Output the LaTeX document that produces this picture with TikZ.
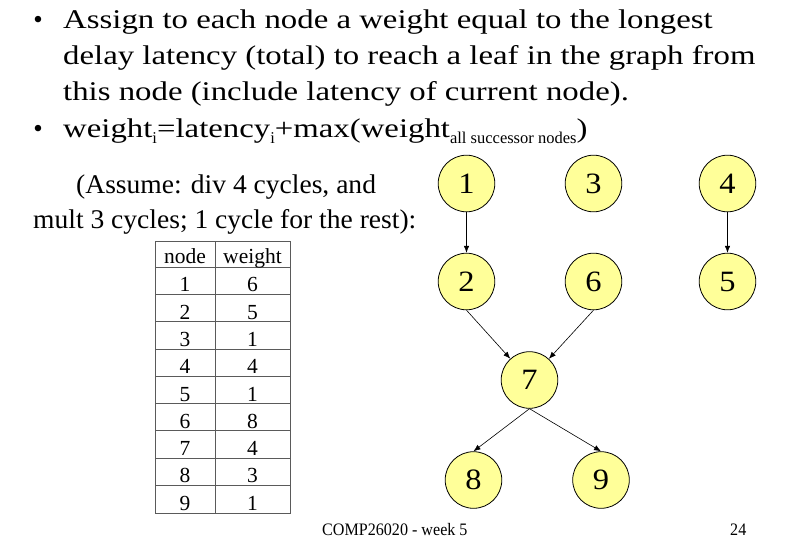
\documentclass[tikz,border=0pt]{standalone}
\usepackage{fontspec}
\setmainfont{Liberation Serif}
\newfontfamily\widefont[FakeStretch=1.215]{Liberation Serif}
\newfontfamily\notefont[FakeStretch=1.02]{Liberation Serif}
\newfontfamily\footfont[FakeStretch=0.92]{Liberation Serif}
\newfontfamily\digitfont[FakeStretch=1.1]{Liberation Serif}
\usetikzlibrary{arrows.meta}
\definecolor{nodeyellow}{RGB}{255,255,153}
\definecolor{gridgray}{RGB}{90,90,90}
\newcommand{\lowtext}[1]{\raisebox{-6pt}{\rmfamily\fontsize{16.5}{16.5}\selectfont #1}}

\begin{document}
\begin{tikzpicture}[x=1pt, y=-1pt,
    vertex/.style={circle, draw, line width=0.8pt, fill=nodeyellow, minimum size=56.6pt, inner sep=0pt, font=\digitfont\fontsize{29.5}{29.5}\selectfont},
    edge/.style={-{Latex[length=7pt,width=5.5pt]}, line width=0.6pt},
    textline/.style={anchor=base west, inner sep=0pt, font=\widefont\fontsize{27}{27}\selectfont},
    note/.style={anchor=base west, inner sep=0pt, font=\notefont\fontsize{27}{27}\selectfont},
    cell/.style={anchor=base, inner sep=0pt, font=\fontsize{21.5}{21.5}\selectfont},
    foot/.style={anchor=base west, inner sep=0pt, font=\footfont\fontsize{17.5}{17.5}\selectfont}]
    \useasboundingbox[fill=white] (0,0) rectangle (787,552);
    % bullets
    \node[textline, anchor=base, font=\rmfamily\fontsize{27}{27}\selectfont] (b1) at (38,28) {\textbullet};
    \node[textline, anchor=base, font=\rmfamily\fontsize{27}{27}\selectfont] (b2) at (38,137) {\textbullet};
    \node[textline] (t1) at (63,28) {Assign to each node a weight equal to the longest};
    \node[textline] (t2) at (63,64) {delay latency (total) to reach a leaf in the graph from};
    \node[textline] (t3) at (63,100) {this node (include latency of current node).};
    \node[textline] (t4) at (63,137) {weight\lowtext{i}=latency\lowtext{i}+max(weight\lowtext{all successor nodes})};
    % assumption
    \node[note] (a1) at (76,193) {(Assume: div 4 cycles, and};
    \node[note] (a2) at (33,228) {mult 3 cycles; 1 cycle for the rest):};
    % table
    \draw[gridgray, line width=0.7pt] (155,241) rectangle (290,513);
    \draw[gridgray, line width=0.7pt] (215,241) -- (215,513);
    \foreach \i in {0,...,8}
        \draw[gridgray, line width=0.7pt] (155,{267+27.3*\i}) -- (290,{267+27.3*\i});
    \node[cell] (hkey) at (185,263) {node};
    \node[cell] (hwgt) at (252.5,263) {weight};
    \foreach \n/\w [count=\i] in {1/6,2/5,3/1,4/4,5/1,6/8,7/4,8/3,9/1} {
        \node[cell] (key\i) at (185,{267+27.3*\i-2.5}) {\n};
        \node[cell] (wgt\i) at (252.5,{267+27.3*\i-2.5}) {\w};
    }
    % graph
    \node[vertex] (n1) at (466.5,183.5) {1};
    \node[vertex] (n3) at (593.5,183.5) {3};
    \node[vertex] (n4) at (727.5,183.5) {4};
    \node[vertex] (n2) at (466.5,281.5) {2};
    \node[vertex] (n6) at (593.5,281.5) {6};
    \node[vertex] (n5) at (727.5,281.5) {5};
    \node[vertex] (n7) at (529.5,380) {7};
    \node[vertex] (n8) at (473.5,480) {8};
    \node[vertex] (n9) at (601,480) {9};
    \draw[edge] (n1) -- (n2);
    \draw[edge] (n4) -- (n5);
    \draw[edge] (n2.south) -- (n7);
    \draw[edge] (n6.south) -- (n7);
    \draw[edge] (n7.south) -- (n8.north);
    \draw[edge] (n7.south) -- (n9.north);
    % footer
    \node[foot] (f1) at (322,535) {COMP26020 - week 5};
    \node[foot] (f2) at (730,535) {24};
\end{tikzpicture}
\end{document}
